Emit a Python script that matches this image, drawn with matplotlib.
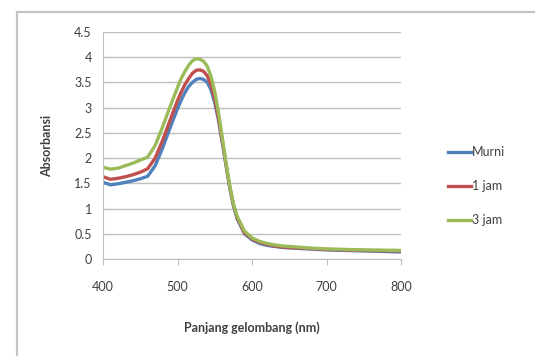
import matplotlib
matplotlib.use("Agg")
import matplotlib.pyplot as plt
from matplotlib.patches import Rectangle

wavelength = [400, 410, 420, 430, 440, 450, 460, 470, 480, 490, 500, 505, 510, 515, 520, 525, 530,
              535, 540, 545, 550, 555, 560, 565, 570, 575, 580, 590, 600, 610, 620, 630, 640, 650,
              675, 700, 750, 800]
murni = [1.52, 1.47, 1.49, 1.52, 1.55, 1.59, 1.64, 1.85, 2.20, 2.60, 2.98, 3.15, 3.30, 3.42, 3.50,
         3.56, 3.58, 3.56, 3.50, 3.35, 3.10, 2.75, 2.32, 1.87, 1.42, 1.06, 0.80, 0.50, 0.38, 0.31,
         0.27, 0.25, 0.23, 0.22, 0.20, 0.18, 0.16, 0.14]
jam1 = [1.63, 1.58, 1.60, 1.63, 1.67, 1.72, 1.79, 2.00, 2.35, 2.75, 3.14, 3.31, 3.46, 3.58, 3.68,
        3.74, 3.75, 3.72, 3.63, 3.45, 3.18, 2.80, 2.36, 1.89, 1.44, 1.08, 0.82, 0.52, 0.40, 0.33,
        0.29, 0.26, 0.24, 0.23, 0.21, 0.19, 0.17, 0.16]
jam3 = [1.82, 1.78, 1.80, 1.85, 1.90, 1.96, 2.02, 2.25, 2.62, 3.02, 3.40, 3.58, 3.72, 3.84, 3.93,
        3.97, 3.96, 3.92, 3.82, 3.62, 3.32, 2.90, 2.42, 1.92, 1.46, 1.10, 0.85, 0.55, 0.42, 0.35,
        0.31, 0.28, 0.26, 0.25, 0.22, 0.20, 0.18, 0.17]
series_labels = ["Murni", "1 jam", "3 jam"]
colors = ["#4F81BD", "#C0504D", "#9BBB59"]
x_ticks = [400, 500, 600, 700, 800]
y_ticks = [0, 0.5, 1, 1.5, 2, 2.5, 3, 3.5, 4, 4.5]

plt.rcParams['font.family'] = ['Lato', 'DejaVu Sans']

fig = plt.figure(figsize=(5.35, 3.56), dpi=100)
fig.patches.append(Rectangle((17/535, -0.1), 1.2, 1 - 12/356 + 0.1, transform=fig.transFigure,
                             fill=False, edgecolor="#c4c4c4", linewidth=1.6))
ax = fig.add_axes([103/535, 1 - 259/356, (401 - 103)/535, (259 - 32)/356])

for ys, lab, c in zip([murni, jam1, jam3], series_labels, colors):
    ax.plot(wavelength, ys, color=c, linewidth=2.4, label=lab, solid_joinstyle="round")

ax.set_xlim(400, 800)
ax.set_ylim(0, 4.5)
ax.set_xticks(x_ticks)
ax.set_yticks(y_ticks)
ax.set_yticklabels([f"{v:g}" for v in y_ticks])
ax.grid(axis="y", color="#bfbfbf", linewidth=1.0)
ax.set_axisbelow(True)
for s in ["top", "right"]:
    ax.spines[s].set_visible(False)
ax.spines["left"].set_color("#bfbfbf")
ax.spines["bottom"].set_color("#bfbfbf")
ax.tick_params(axis="x", colors="#bfbfbf", labelcolor="#404040", labelsize=9, length=4, pad=12)
ax.tick_params(axis="y", length=0, labelcolor="#404040", labelsize=9, pad=8)
ax.set_xlabel("Panjang gelombang (nm)", fontsize=9, fontweight="bold", color="#404040", labelpad=20)
ax.set_ylabel("Absorbansi", fontsize=9, fontweight="bold", color="#404040", labelpad=15)

fig.legend(loc="center left", bbox_to_anchor=(437/535, 1 - 186/356), frameon=False,
           fontsize=9, handlelength=1.8, handletextpad=0.1, labelspacing=1.75,
           labelcolor="#404040")

fig.savefig("out.png", dpi=100)
